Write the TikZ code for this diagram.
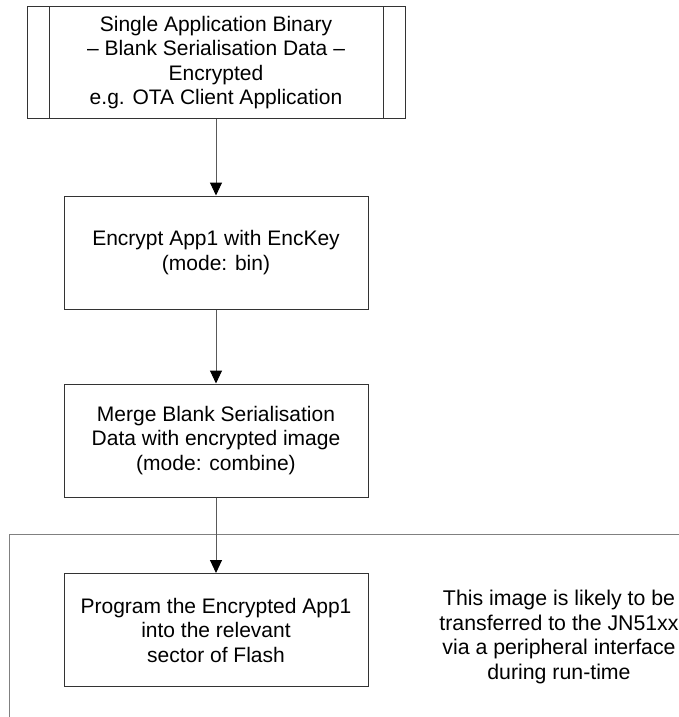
\documentclass[tikz,border=0pt]{standalone}
\usepackage{fontspec}
\setmainfont{Liberation Sans}
\usetikzlibrary{arrows.meta}
\begin{document}
\begin{tikzpicture}[x=1pt,y=-1pt,
  boxline/.style={draw=black!80,line width=1pt},
  proc/.style={boxline,minimum width=304pt,minimum height=113pt,align=center,font=\fontsize{21}{24.5}\selectfont,inner sep=0pt},
  note/.style={align=center,font=\fontsize{21.3}{24.5}\selectfont,inner sep=0pt},
  flow/.style={draw=black!65,line width=1pt,-{Triangle[width=12pt,length=13pt,color=black]}},
  frame/.style={draw=black!50,line width=1pt}]
\useasboundingbox (0,0) rectangle (679,717);
% top predefined-process box
\node[proc,minimum width=378pt,minimum height=111pt] (src) at (216,62.5)
  {Single Application Binary\\– Blank Serialisation Data –\\Encrypted\\e.g. OTA Client Application};
\draw[boxline] ([xshift=23pt]src.north west) -- ([xshift=23pt]src.south west);
\draw[boxline] ([xshift=-22pt]src.north east) -- ([xshift=-22pt]src.south east);
\node[proc] (enc) at (216,252.5) {Encrypt App1 with EncKey\\(mode: bin)};
\node[proc] (merge) at (216,440.5) {Merge Blank Serialisation\\Data with encrypted image\\(mode: combine)};
\node[proc] (prog) at (216,630) {Program the Encrypted App1\\into the relevant\\sector of Flash};
\node[note] (info) at (559,637) {This image is likely to be\\transferred to the JN51xx\\via a peripheral interface\\during run-time};
% frame
\coordinate (ftl) at (9,534);
\coordinate (ftr) at (679,534);
\coordinate (fbl) at (9,717);
\draw[frame] (ftr) -- (ftl) -- (fbl);
% connectors
\draw[flow] (src) -- (enc);
\draw[flow] (enc) -- (merge);
\draw[flow] (merge) -- (prog);
\end{tikzpicture}
\end{document}
